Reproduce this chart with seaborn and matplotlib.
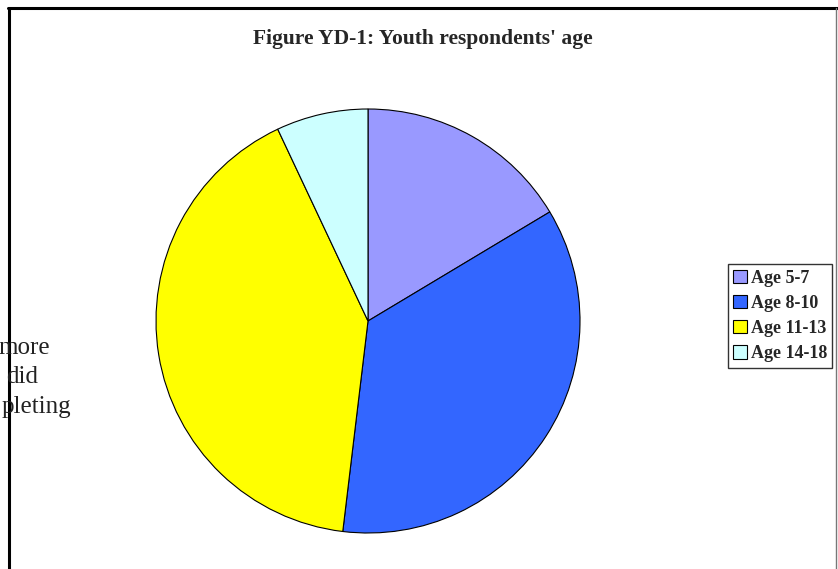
import matplotlib
matplotlib.use("Agg")
import matplotlib.pyplot as plt
import seaborn as sns
from matplotlib.lines import Line2D

# Werte aus dem Bild geschätzt (Anteile in %)
age_groups = ["Age 5-7", "Age 8-10", "Age 11-13", "Age 14-18"]
shares = [16.4, 35.5, 41.1, 7.0]
slice_colors = ["#9999FF", "#3366FF", "#FFFF00", "#CCFFFF"]
title_text = "Figure YD-1: Youth respondents' age"
stray_lines = ["more", "did", "pleting"]

sns.set_style("white")
plt.rcParams["font.family"] = ["Liberation Serif", "DejaVu Serif"]

W, H = 838, 569
fig = plt.figure(figsize=(W / 100, H / 100), dpi=100)
fig.patch.set_facecolor("white")

# Textreste hinter dem Diagramm
for txt, xr, yc in zip(stray_lines, [50, 38, 71], [348, 377, 407]):
    fig.text(xr / W, 1 - yc / H, txt, ha="right", va="center",
             fontsize=18, color="#222222")

# Rahmen
fig.add_artist(Line2D([9 / W, 9 / W], [0, 1 - 8 / H], color="black", lw=2.2))
fig.add_artist(Line2D([8 / W, 1], [1 - 8 / H, 1 - 8 / H], color="black", lw=2.2))
fig.add_artist(Line2D([836 / W, 836 / W], [0, 1 - 8 / H], color="#777777", lw=1))

# Kreisdiagramm
cx, cy, r = 368, 321, 212
ax = fig.add_axes([(cx - r) / W, 1 - (cy + r) / H, 2 * r / W, 2 * r / H])
ax.pie(shares, colors=slice_colors, startangle=90, counterclock=False,
       wedgeprops=dict(edgecolor="black", linewidth=0.8))
ax.set_xlim(-1, 1)
ax.set_ylim(-1, 1)
ax.set_aspect("equal")
ax.axis("off")

fig.text(423 / W, 1 - 39 / H, title_text, ha="center", va="center",
         fontsize=15.5, fontweight="bold")

handles = [plt.Rectangle((0, 0), 1, 1, facecolor=c, edgecolor="black", lw=0.8)
           for c in slice_colors]
leg = fig.legend(handles, age_groups, loc="center left",
                 bbox_to_anchor=(728 / W, 1 - 316 / H),
                 frameon=True, fancybox=False, handlelength=0.75, handleheight=0.75,
                 handletextpad=0.2, borderpad=0.3, labelspacing=0.45,
                 borderaxespad=0, prop=dict(size=13, weight="bold"))
leg.get_frame().set_edgecolor("black")
leg.get_frame().set_linewidth(1)

fig.savefig("out.png", dpi=100)
